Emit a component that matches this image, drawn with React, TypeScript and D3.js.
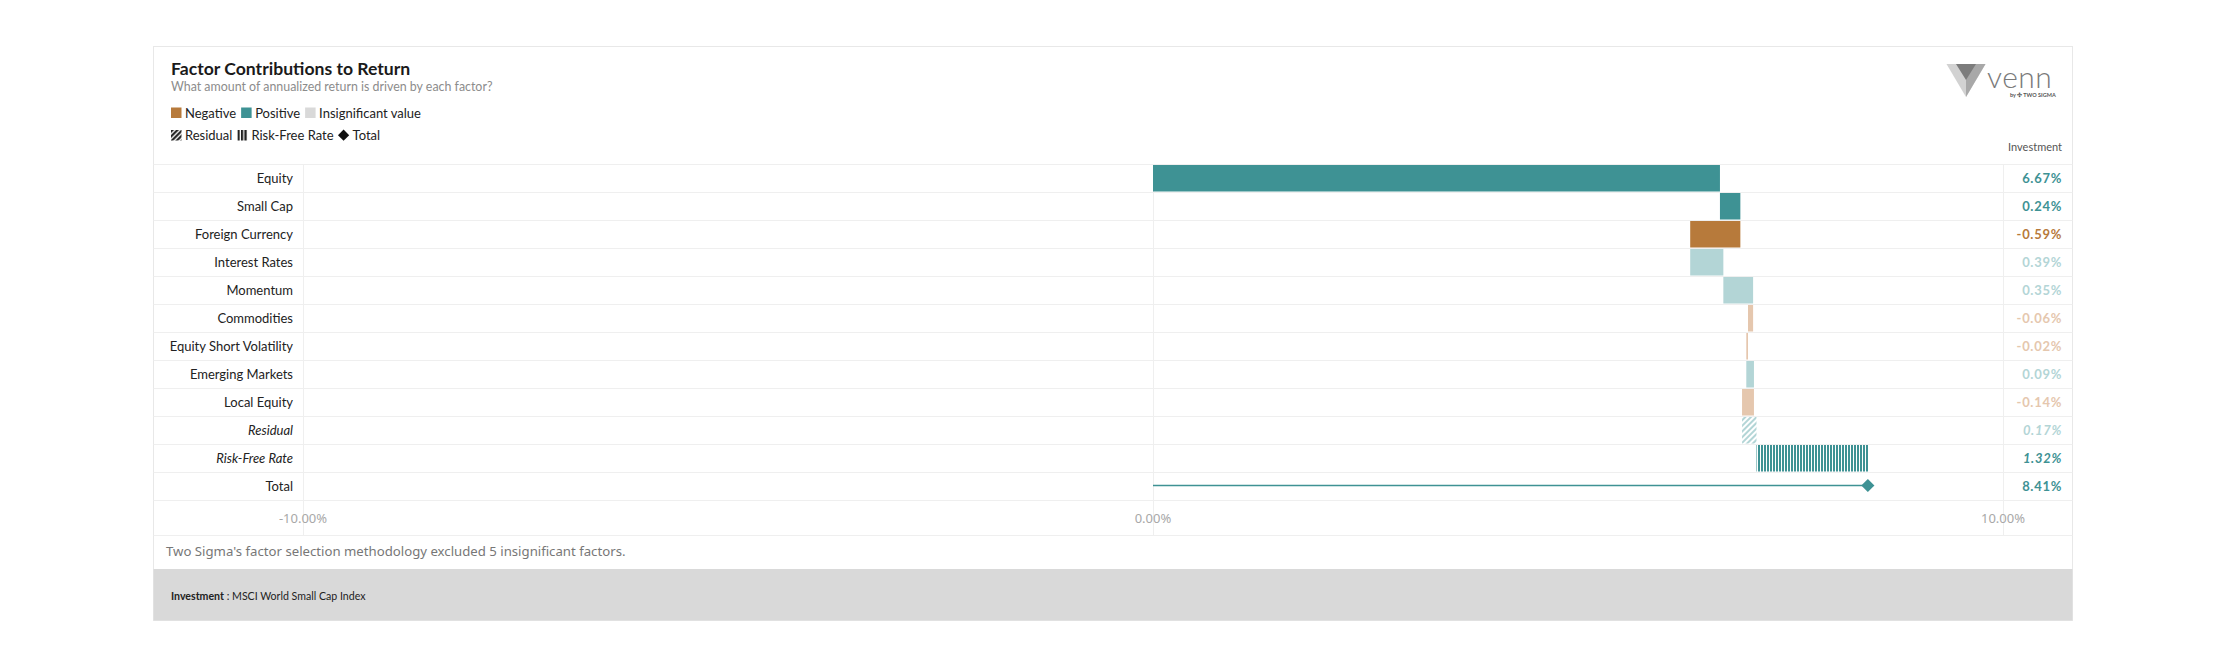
import { useEffect, useRef } from 'react'
import * as d3 from 'd3'

// ── 데이터 ──
const factors = [
  'Equity', 'Small Cap', 'Foreign Currency', 'Interest Rates', 'Momentum',
  'Commodities', 'Equity Short Volatility', 'Emerging Markets', 'Local Equity',
  'Residual', 'Risk-Free Rate', 'Total',
]
const values = [6.67, 0.24, -0.59, 0.39, 0.35, -0.06, -0.02, 0.09, -0.14, 0.17, 1.32, 8.41]
const significant = [true, true, true, false, false, false, false, false, false, false, true, true]
const kinds = ['factor', 'factor', 'factor', 'factor', 'factor', 'factor', 'factor', 'factor', 'factor', 'residual', 'rfr', 'total']
const xTicks = [-10, 0, 10]
const legendRow1 = ['Negative', 'Positive', 'Insignificant value']
const legendRow2 = ['Residual', 'Risk-Free Rate', 'Total']

const W = 2226
const H = 667
const CARD = { left: 153.5, right: 2072.5, top: 46.5, bottom: 620.5 }
const LABEL_R = 303
const PLOT_R = 2003
const ROW_TOP = 164
const ROW_H = 28
const FOOT_TOP = 569

const TEAL = '#3e9294'
const ORANGE = '#b77a3b'
const TEAL_L = '#b3d5d6'
const ORANGE_L = '#e5c7ae'
const GRID = '#efefef'
const LATO = 'Lato, "Noto Sans", sans-serif'
const NOTO = '"Noto Sans", sans-serif'

function colorOf(v: number, sig: boolean) {
  if (v >= 0) return sig ? TEAL : TEAL_L
  return sig ? ORANGE : ORANGE_L
}

export default function App() {
  const svgRef = useRef<SVGSVGElement>(null)

  useEffect(() => {
    const svg = d3.select(svgRef.current)
    svg.selectAll('*').remove()
    svg.attr('viewBox', `0 0 ${W} ${H}`)

    const defs = svg.append('defs')
    // 잔차 해칭
    const hatch = defs.append('pattern').attr('id', 'hatch-res')
      .attr('patternUnits', 'userSpaceOnUse').attr('width', 4).attr('height', 4)
      .attr('patternTransform', 'rotate(45)')
    hatch.append('rect').attr('width', 4).attr('height', 4).attr('fill', '#fff')
    hatch.append('rect').attr('width', 2).attr('height', 4).attr('fill', TEAL_L)
    // 무위험 수익률 세로 줄무늬
    const stripe = defs.append('pattern').attr('id', 'stripe-rfr')
      .attr('patternUnits', 'userSpaceOnUse').attr('width', 3).attr('height', 4)
    stripe.append('rect').attr('width', 3).attr('height', 4).attr('fill', '#fff')
    stripe.append('rect').attr('width', 2).attr('height', 4).attr('fill', TEAL)
    // 범례용 검은 패턴
    const hatchK = defs.append('pattern').attr('id', 'hatch-k')
      .attr('patternUnits', 'userSpaceOnUse').attr('width', 3.5).attr('height', 3.5)
      .attr('patternTransform', 'rotate(45)')
    hatchK.append('rect').attr('width', 3.5).attr('height', 3.5).attr('fill', '#fff')
    hatchK.append('rect').attr('width', 2.2).attr('height', 3.5).attr('fill', '#222')
    const stripeK = defs.append('pattern').attr('id', 'stripe-k')
      .attr('patternUnits', 'userSpaceOnUse').attr('width', 3.5).attr('height', 4)
    stripeK.append('rect').attr('width', 3.5).attr('height', 4).attr('fill', '#fff')
    stripeK.append('rect').attr('width', 2.3).attr('height', 4).attr('fill', '#222')

    // ── 카드 ──
    svg.append('rect').attr('width', W).attr('height', H).attr('fill', '#fff')
    svg.append('rect')
      .attr('x', CARD.left).attr('y', CARD.top)
      .attr('width', CARD.right - CARD.left).attr('height', CARD.bottom - CARD.top)
      .attr('fill', '#fff').attr('stroke', '#e8e8e8')
    svg.append('rect')
      .attr('x', CARD.left).attr('y', FOOT_TOP)
      .attr('width', CARD.right - CARD.left).attr('height', CARD.bottom - FOOT_TOP)
      .attr('fill', '#d9d9d9')

    // ── 제목 ──
    svg.append('text').attr('x', 171).attr('y', 75)
      .attr('font-family', LATO).attr('font-size', 17.6).attr('font-weight', 700).attr('fill', '#1a1a1a')
      .text('Factor Contributions to Return')
    svg.append('text').attr('x', 171).attr('y', 91)
      .attr('font-family', LATO).attr('font-size', 12.4).attr('fill', '#8c8c8c')
      .text('What amount of annualized return is driven by each factor?')

    // ── 범례 ──
    const drawLegend = (items: string[], y: number, swatch: (g: any, i: number) => void) => {
      let x = 171
      items.forEach((lbl, i) => {
        const g = svg.append('g').attr('transform', `translate(${x},${y})`)
        swatch(g, i)
        const t = g.append('text').attr('x', 14).attr('y', 5)
          .attr('font-family', LATO).attr('font-size', 13).attr('fill', '#222').text(lbl)
        const w = (t.node() as SVGTextElement).getComputedTextLength()
        x += 14 + w + 5
      })
    }
    drawLegend(legendRow1, 112.5, (g, i) => {
      g.append('rect').attr('x', 0).attr('y', -5).attr('width', 10.5).attr('height', 10.5)
        .attr('fill', [ORANGE, TEAL, '#d9d9d9'][i])
    })
    drawLegend(legendRow2, 135, (g, i) => {
      if (i === 2) {
        g.append('path').attr('d', d3.symbol(d3.symbolDiamond2, 80)())
          .attr('transform', 'translate(5,0.2)').attr('fill', '#111')
      } else {
        g.append('rect').attr('x', 0).attr('y', -5).attr('width', 10.5).attr('height', 10.5)
          .attr('fill', i === 0 ? 'url(#hatch-k)' : 'url(#stripe-k)')
      }
    })

    // ── 로고 ──
    const logo = svg.append('g')
    logo.append('polygon').attr('points', '1946.5,64 1985.5,64 1966,97').attr('fill', '#d2d2d2')
    logo.append('polygon').attr('points', '1966,64 1985.5,64 1966,97').attr('fill', '#a8a8a8')
    logo.append('polygon').attr('points', '1956,64 1976,64 1966,80').attr('fill', '#7c7c7c')
    logo.append('text').attr('x', 1987).attr('y', 87.5)
      .attr('font-family', LATO).attr('font-size', 30).attr('font-weight', 300)
      .attr('letter-spacing', 0.5)
      .attr('fill', '#7a7a7a').text('venn')
    logo.append('text').attr('x', 2010).attr('y', 96.5)
      .attr('font-family', LATO).attr('font-size', 5.5).attr('font-weight', 700)
      .attr('fill', '#555').text('by ✣ TWO SIGMA')

    // 열 헤더
    svg.append('text').attr('x', 2062).attr('y', 151).attr('text-anchor', 'end')
      .attr('font-family', LATO).attr('font-size', 11).attr('fill', '#555').text('Investment')

    // ── 스케일 ──
    const x = d3.scaleLinear().domain([-10, 10]).range([LABEL_R, PLOT_R])
    const y = d3.scaleBand().domain(factors).range([ROW_TOP, ROW_TOP + ROW_H * factors.length])
    const axisBottom = ROW_TOP + ROW_H * factors.length
    const axisRowBottom = axisBottom + 35

    // ── 격자 ──
    const hLines = [...factors.map((f) => y(f) as number), axisBottom, axisRowBottom]
    svg.append('g').selectAll('line').data(hLines).join('line')
      .attr('x1', CARD.left).attr('x2', CARD.right)
      .attr('y1', (d) => d + 0.5).attr('y2', (d) => d + 0.5)
      .attr('stroke', GRID)
    svg.append('g').selectAll('line').data(xTicks).join('line')
      .attr('x1', (d) => x(d) + 0.5).attr('x2', (d) => x(d) + 0.5)
      .attr('y1', ROW_TOP).attr('y2', axisRowBottom)
      .attr('stroke', GRID)

    // ── 행 라벨 ──
    svg.append('g').selectAll('text').data(factors).join('text')
      .attr('x', LABEL_R - 10).attr('y', (d) => (y(d) as number) + ROW_H / 2 + 4.5)
      .attr('text-anchor', 'end')
      .attr('font-family', LATO).attr('font-size', 13).attr('fill', '#222')
      .attr('font-style', (_, i) => (kinds[i] === 'residual' || kinds[i] === 'rfr' ? 'italic' : 'normal'))
      .text((d) => d)

    // ── 폭포 막대 ──
    let cum = 0
    const bars = factors.map((f, i) => {
      const v = values[i]
      const start = kinds[i] === 'total' ? 0 : cum
      const end = kinds[i] === 'total' ? v : cum + v
      if (kinds[i] !== 'total') cum += v
      return { f, v, start, end, i }
    })
    const gBars = svg.append('g')
    bars.filter((b) => kinds[b.i] !== 'total').forEach((b) => {
      const x0 = x(Math.min(b.start, b.end))
      const x1 = x(Math.max(b.start, b.end))
      let fill = colorOf(b.v, significant[b.i])
      if (kinds[b.i] === 'residual') fill = 'url(#hatch-res)'
      if (kinds[b.i] === 'rfr') fill = 'url(#stripe-rfr)'
      gBars.append('rect')
        .attr('x', x0).attr('y', (y(b.f) as number) + 1)
        .attr('width', Math.max(1, x1 - x0)).attr('height', ROW_H - 1.5)
        .attr('fill', fill)
    })
    bars.filter((b) => kinds[b.i] === 'total').forEach((b) => {
      const cy = (y(b.f) as number) + ROW_H / 2 - 0.5
      gBars.append('line')
        .attr('x1', x(b.start)).attr('x2', x(b.end))
        .attr('y1', cy).attr('y2', cy)
        .attr('stroke', TEAL).attr('stroke-width', 1.5)
      gBars.append('path').attr('d', d3.symbol(d3.symbolDiamond2, 110)())
        .attr('transform', `translate(${x(b.end)},${cy})`).attr('fill', TEAL)
    })

    // ── 값 열 ──
    svg.append('g').selectAll('text').data(bars).join('text')
      .attr('x', 2062).attr('y', (d) => (y(d.f) as number) + ROW_H / 2 + 4.8)
      .attr('text-anchor', 'end')
      .attr('font-family', LATO).attr('font-size', 13).attr('font-weight', 700)
      .attr('letter-spacing', 0.7)
      .attr('font-style', (d) => (kinds[d.i] === 'residual' || kinds[d.i] === 'rfr' ? 'italic' : 'normal'))
      .attr('fill', (d) => colorOf(d.v, significant[d.i]))
      .text((d) => `${d.v.toFixed(2)}%`)

    // ── X 축 라벨 ──
    svg.append('g').selectAll('text').data(xTicks).join('text')
      .attr('x', (d) => x(d)).attr('y', axisBottom + 22.5)
      .attr('text-anchor', 'middle')
      .attr('font-family', NOTO).attr('font-size', 13).attr('fill', '#a8a8a8')
      .text((d) => `${d.toFixed(2)}%`)

    // ── 각주 ──
    svg.append('text').attr('x', 166).attr('y', 556)
      .attr('font-family', NOTO).attr('font-size', 13.2).attr('fill', '#777')
      .text("Two Sigma's factor selection methodology excluded 5 insignificant factors.")
    const ft = svg.append('text').attr('x', 171).attr('y', 600)
      .attr('font-family', LATO).attr('font-size', 10.6).attr('fill', '#222')
    ft.append('tspan').attr('font-weight', 700).text('Investment')
    ft.append('tspan').text(' : MSCI World Small Cap Index')
  }, [])

  return (
    <svg ref={svgRef} width={W} height={H}
      style={{ position: 'absolute', left: 0, top: 0, display: 'block' }} />
  )
}
